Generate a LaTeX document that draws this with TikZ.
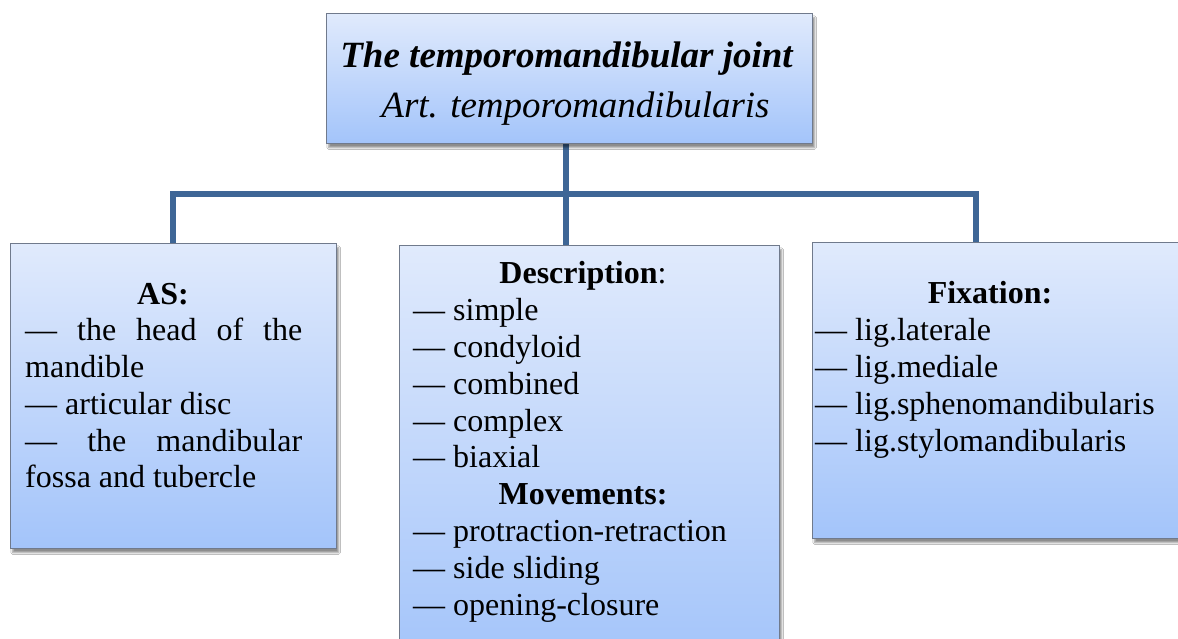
\documentclass[tikz,border=0pt]{standalone}
\usepackage{fontspec}
\setmainfont{Liberation Serif}
\usetikzlibrary{shadows.blur}
\definecolor{boxtop}{RGB}{224,234,252}
\definecolor{boxbot}{RGB}{163,196,250}
\definecolor{boxline}{RGB}{112,122,140}
\definecolor{connline}{RGB}{62,102,150}
\tikzset{
  panel/.style={rectangle, inner sep=0pt, anchor=north west, draw=boxline,
    line width=1.2pt, top color=boxtop, bottom color=boxbot, shading=axis,
    blur shadow={shadow xshift=2pt, shadow yshift=-4pt, shadow blur steps=6,
      shadow opacity=45}},
  conn/.style={draw=connline, line width=5.5pt, line join=miter},
  body/.style={inner sep=0pt, anchor=base west, font=\fontsize{32pt}{36.8pt}\selectfont},
  head/.style={inner sep=0pt, anchor=base, font=\fontsize{32pt}{36.8pt}\selectfont\bfseries},
  ttl/.style={inner sep=0pt, anchor=base, font=\fontsize{37pt}{44pt}\selectfont\itshape}
}
\begin{document}
\begin{tikzpicture}[x=1pt,y=-1pt]
\useasboundingbox (0,0) rectangle (1178,639);
\fill[white] (0,0) rectangle (1178,639);
\clip (0,0) rectangle (1178,639);

% junction points of the connector tree
\coordinate (ttop) at (566,143);
\coordinate (hub) at (566,194);
\coordinate (jL) at (173,194);
\coordinate (jR) at (976,194);
\coordinate (desctop) at (566,245);
\coordinate (fixtop) at (976,242);

% connectors
\draw[conn] (ttop) -- (hub);
\draw[conn] (hub) -- (desctop);
\coordinate (astop) at (173,243);
\draw[conn] (astop) -- (jL) -- (jR) -- (fixtop);

% boxes
\node[panel, minimum width=486pt, minimum height=130pt] (title) at (326,13) {};
\node[panel, minimum width=326pt, minimum height=305pt] (asbox) at (10,243) {};
\node[panel, minimum width=380pt, minimum height=420pt] (descbox) at (399,245) {};
\node[panel, minimum width=390pt, minimum height=296pt] (fixbox) at (812,242) {};

% title
\node[ttl] (t1) at (566.5,68) {\bfseries The temporomandibular joint};
\node[ttl] (t2) at (575.5,118) {Art. temporomandibularis};

% articular surfaces
\node[head] (as0) at (163,304) {AS:};
\node[body] (as1) at (25,340) {\makebox[277pt][s]{— the head of the}};
\node[body] (as2) at (25,377) {mandible};
\node[body] (as3) at (25,414) {— articular disc};
\node[body] (as4) at (25,451) {\makebox[277pt][s]{— the mandibular}};
\node[body] (as5) at (25,487) {fossa and tubercle};

% description and movements
\node[head] (d0) at (583,283) {Description\mdseries:};
\node[body] (d1) at (413,320) {— simple};
\node[body] (d2) at (413,357) {— condyloid};
\node[body] (d3) at (413,394) {— combined};
\node[body] (d4) at (413,431) {— complex};
\node[body] (d5) at (413,467) {— biaxial};
\node[head] (m0) at (583,504) {Movements:};
\node[body] (m1) at (413,541) {— protraction-retraction};
\node[body] (m2) at (413,578) {— side sliding};
\node[body] (m3) at (413,615) {— opening-closure};

% fixation
\node[head] (f0) at (990,303) {Fixation:};
\node[body] (f1) at (815,340) {— lig.laterale};
\node[body] (f2) at (815,377) {— lig.mediale};
\node[body] (f3) at (815,414) {— lig.sphenomandibularis};
\node[body] (f4) at (815,451) {— lig.stylomandibularis};
\end{tikzpicture}
\end{document}
